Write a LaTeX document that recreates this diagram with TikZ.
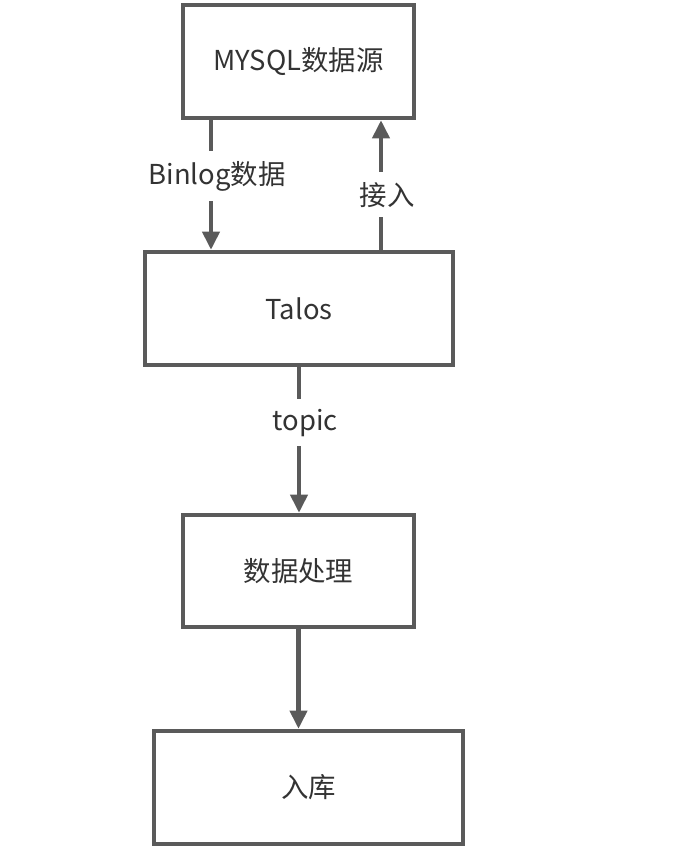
\documentclass[tikz,border=0pt]{standalone}
\usepackage{fontspec}
\setmainfont{Noto Sans CJK SC}
\usepackage{xcolor}
\usepackage{tikz}
\usetikzlibrary{arrows.meta}
\usetikzlibrary{calc}
\definecolor{linegray}{HTML}{5A5A5A}
\definecolor{textgray}{HTML}{333333}

\begin{document}
\begin{tikzpicture}[x=0.025cm, y=-0.025cm,
	box/.style={draw=linegray, line width=3pt, text=textgray, font=\fontsize{19.5}{23}\selectfont},
	flow/.style={draw=linegray, line width=3.2pt, -{Triangle[length=13pt, width=12pt]}},
	lbl/.style={fill=white, text=textgray, inner xsep=2pt, inner ysep=7pt, font=\fontsize{19.5}{23}\selectfont}]
	\useasboundingbox (0,0) rectangle (686,857);
	\node[box, minimum width=5.775cm, minimum height=2.825cm] (src) at (298.5,61.5) {MYSQL数据源};
	\node[box, minimum width=7.7cm, minimum height=2.825cm] (talos) at (299,308.5) {Talos};
	\node[box, minimum width=5.775cm, minimum height=2.8cm] (proc) at (298.5,571) {数据处理};
	\node[box, minimum width=7.725cm, minimum height=2.825cm] (store) at (308.5,787.5) {入库};
	\coordinate (binlogx) at (211,0);
	\coordinate (accessx) at (381,0);
	\draw[flow] (src.south -| binlogx) -- node[lbl, pos=0.43, xshift=0.15cm] {Binlog数据} (talos.north -| binlogx);
	\draw[flow] (talos.north -| accessx) -- node[lbl, pos=0.425, xshift=0.15cm] {接入} (src.south -| accessx);
	\draw[flow] (talos) -- node[lbl, pos=0.38, xshift=0.15cm] {topic} (proc.north -| talos);
	\draw[flow] (proc) -- (proc |- store.north);
\end{tikzpicture}
\end{document}
